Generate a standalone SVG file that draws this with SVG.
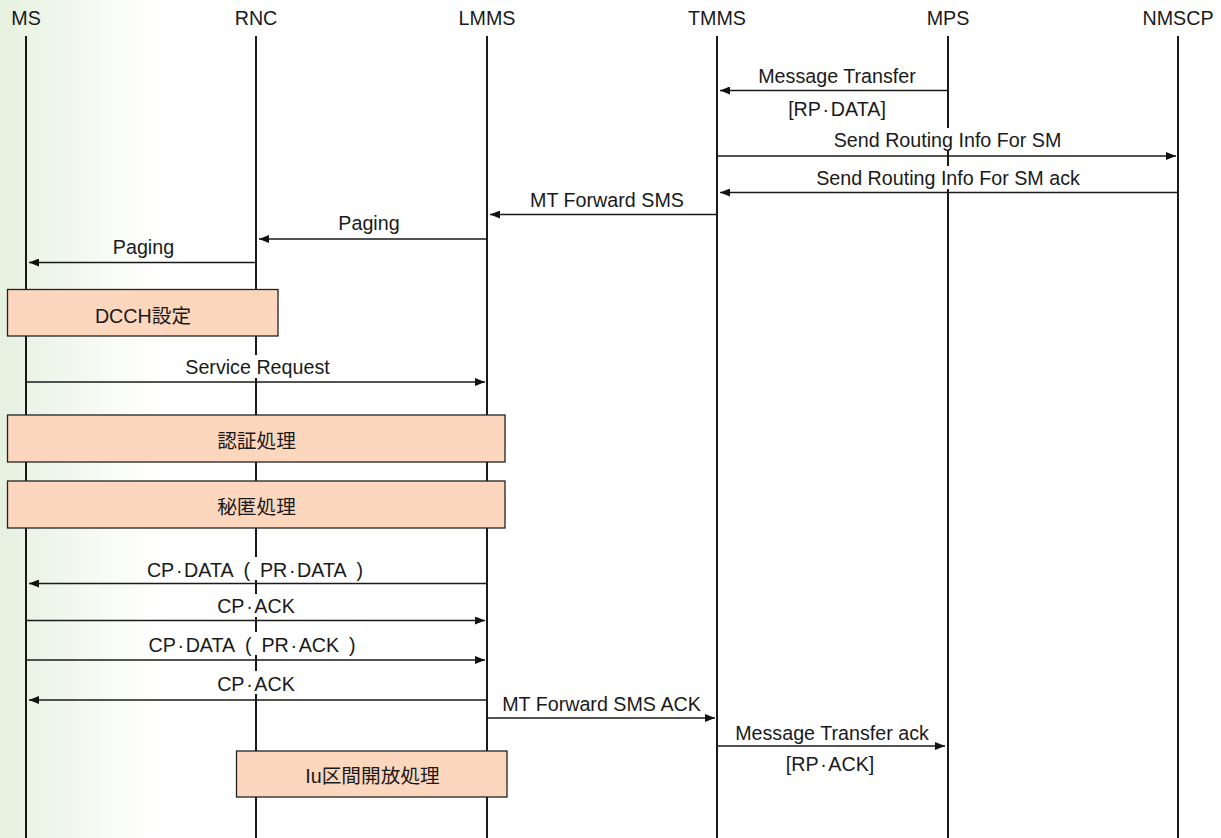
<svg xmlns="http://www.w3.org/2000/svg" width="1221" height="838" viewBox="0 0 1221 838">
  <defs>
    <linearGradient id="edgeTint" x1="0" y1="0" x2="160" y2="0" gradientUnits="userSpaceOnUse">
      <stop offset="0" stop-color="#e6f1df"/>
      <stop offset="0.4" stop-color="#f1f7ed"/>
      <stop offset="0.75" stop-color="#fafcf8"/>
      <stop offset="1" stop-color="#ffffff"/>
    </linearGradient>
    <marker id="head" viewBox="0 0 10 8" refX="10" refY="4" markerWidth="10" markerHeight="8" markerUnits="userSpaceOnUse" orient="auto">
      <path d="M0,0 L10,4 L0,8 Z" fill="#111"/>
    </marker>
    <style>
      text { font-family: "Liberation Sans", "Noto Sans CJK JP", sans-serif; font-size: 19.7px; fill: #1a1a1a; text-anchor: middle; }
      .life { stroke: #1a1a1a; stroke-width: 2; fill: none; }
      .msg { stroke: #1a1a1a; stroke-width: 1.3; fill: none; marker-end: url(#head); }
      .bg { fill: #ffffff; }
      .proc { fill: #fcd6bd; stroke: #222; stroke-width: 1.3; }
    </style>
  </defs>

  <!-- page background with a green tint on the left edge -->
  <rect x="0" y="0" width="1221" height="838" fill="url(#edgeTint)"/>

  <!-- participants: header label and lifeline -->
  <g id="ms"><text x="26" y="25">MS</text><line class="life" x1="26" y1="36" x2="26" y2="838"/></g>
  <g id="rnc"><text x="256" y="25">RNC</text><line class="life" x1="256" y1="36" x2="256" y2="838"/></g>
  <g id="lmms"><text x="487" y="25">LMMS</text><line class="life" x1="487" y1="36" x2="487" y2="838"/></g>
  <g id="tmms"><text x="717" y="25">TMMS</text><line class="life" x1="717" y1="36" x2="717" y2="838"/></g>
  <g id="mps"><text x="948" y="25">MPS</text><line class="life" x1="948" y1="36" x2="948" y2="838"/></g>
  <g id="nmscp"><text x="1178" y="25">NMSCP</text><line class="life" x1="1178" y1="36" x2="1178" y2="838"/></g>

  <!-- messages -->
  <g id="connectors">
    <line class="msg" x1="948" y1="90.5" x2="720" y2="90.5"/>
    <text x="837" y="83">Message Transfer</text>
    <text x="837" y="115.5">[RP&#x200A;·&#x200A;DATA]</text>

    <line class="msg" x1="717" y1="156" x2="1176" y2="156"/>
    <rect class="bg" x="830" y="128" width="236" height="23"/>
    <text x="947.5" y="146.7">Send Routing Info For SM</text>

    <line class="msg" x1="1178" y1="192.5" x2="720" y2="192.5"/>
    <rect class="bg" x="811" y="166" width="274" height="23"/>
    <text x="948" y="185">Send Routing Info For SM ack</text>

    <line class="msg" x1="717" y1="214.5" x2="490" y2="214.5"/>
    <text x="607" y="207.3">MT Forward SMS</text>

    <line class="msg" x1="487" y1="239" x2="259" y2="239"/>
    <text x="369" y="230">Paging</text>

    <line class="msg" x1="256" y1="262.5" x2="29" y2="262.5"/>
    <text x="143.5" y="254">Paging</text>

    <line class="msg" x1="26" y1="382" x2="485" y2="382"/>
    <rect class="bg" x="182" y="355" width="152" height="23"/>
    <text x="257.5" y="374">Service Request</text>

    <line class="msg" x1="487" y1="583.5" x2="29" y2="583.5"/>
    <rect class="bg" x="144" y="557" width="224" height="23"/>
    <text x="255" y="576.7">CP&#x200A;·&#x200A;DATA&#x2002;(&#x2002;PR&#x200A;·&#x200A;DATA&#x2002;)</text>

    <line class="msg" x1="26" y1="620.5" x2="485" y2="620.5"/>
    <rect class="bg" x="213" y="594" width="86" height="23"/>
    <text x="256" y="613.3">CP&#x200A;·&#x200A;ACK</text>

    <line class="msg" x1="26" y1="660" x2="485" y2="660"/>
    <rect class="bg" x="144" y="632" width="220" height="23"/>
    <text x="252" y="651.7">CP&#x200A;·&#x200A;DATA&#x2002;(&#x2002;PR&#x200A;·&#x200A;ACK&#x2002;)</text>

    <line class="msg" x1="487" y1="700" x2="29" y2="700"/>
    <rect class="bg" x="213" y="671" width="86" height="23"/>
    <text x="256" y="690.7">CP&#x200A;·&#x200A;ACK</text>

    <line class="msg" x1="487" y1="718" x2="715" y2="718"/>
    <text x="601.5" y="710.7">MT Forward SMS ACK</text>

    <line class="msg" x1="717" y1="746" x2="945" y2="746"/>
    <text x="832" y="740">Message Transfer ack</text>
    <text x="830" y="770.5">[RP&#x200A;·&#x200A;ACK]</text>
  </g>

  <!-- procedure boxes -->
  <g id="dcch"><rect class="proc" x="7.5" y="289.5" width="270.5" height="46.5"/><text x="143" y="322.5">DCCH設定</text></g>
  <g id="auth"><rect class="proc" x="7.5" y="415" width="497.5" height="47"/><text x="256.5" y="448">認証処理</text></g>
  <g id="cipher"><rect class="proc" x="7.5" y="481" width="497.5" height="47"/><text x="256.5" y="514">秘匿処理</text></g>
  <g id="iu-release"><rect class="proc" x="236.5" y="751" width="270.5" height="46"/><text x="372.5" y="783">Iu区間開放処理</text></g>
</svg>
